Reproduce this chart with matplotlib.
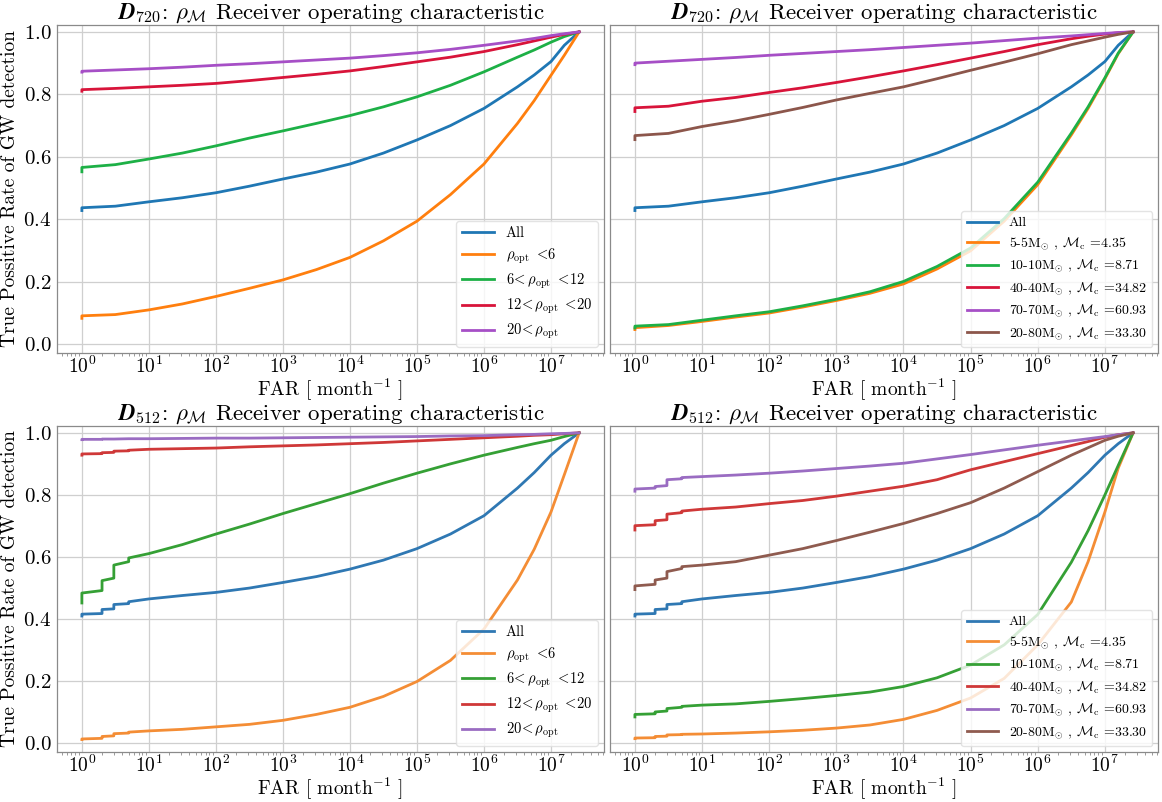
import matplotlib
matplotlib.use("Agg")
import matplotlib.pyplot as plt
from matplotlib.ticker import LogLocator, NullFormatter

plt.rcParams['font.family'] = 'serif'
plt.rcParams['font.serif'] = ['cmr10', 'DejaVu Serif']
plt.rcParams['mathtext.fontset'] = 'cm'
plt.rcParams['axes.unicode_minus'] = False
plt.rcParams['axes.formatter.use_mathtext'] = True

# ---------------- data ----------------
FAR_TOP = [1, 1, 3.16, 10, 31.6, 100, 316, 1e3, 3.16e3, 1e4, 3.16e4, 1e5, 3.16e5,
           1e6, 3.16e6, 5.62e6, 1e7, 1.58e7, 2.63e7]
FAR_BOT = [1, 1, 2, 2, 3, 3, 5, 5, 10, 31.6, 100, 316, 1e3, 3.16e3, 1e4, 3.16e4,
           1e5, 3.16e5, 1e6, 3.16e6, 5.62e6, 1e7, 1.58e7, 2.63e7]
XTICKS = [1, 10, 100, 1e3, 1e4, 1e5, 1e6, 1e7]
YTICKS = [0.0, 0.2, 0.4, 0.6, 0.8, 1.0]

# D720, SNR bins
TL_all = [0.428, 0.437, 0.442, 0.456, 0.469, 0.485, 0.506, 0.529, 0.551, 0.577, 0.612, 0.654, 0.700, 0.755, 0.824, 0.862, 0.905, 0.957, 1.0]
TL_low = [0.083, 0.091, 0.095, 0.110, 0.129, 0.153, 0.179, 0.206, 0.239, 0.278, 0.331, 0.394, 0.479, 0.577, 0.707, 0.780, 0.861, 0.925, 1.0]
TL_mid = [0.552, 0.566, 0.575, 0.593, 0.612, 0.635, 0.660, 0.683, 0.707, 0.732, 0.760, 0.792, 0.829, 0.872, 0.919, 0.942, 0.967, 0.985, 1.0]
TL_high = [0.810, 0.815, 0.819, 0.824, 0.829, 0.835, 0.844, 0.854, 0.864, 0.875, 0.889, 0.904, 0.919, 0.937, 0.959, 0.971, 0.983, 0.992, 1.0]
TL_vhigh = [0.871, 0.874, 0.878, 0.882, 0.887, 0.893, 0.898, 0.904, 0.910, 0.916, 0.924, 0.933, 0.944, 0.957, 0.971, 0.979, 0.988, 0.994, 1.0]

# D720, mass bins
TR_all = [0.428, 0.437, 0.442, 0.456, 0.469, 0.485, 0.506, 0.529, 0.551, 0.577, 0.612, 0.654, 0.700, 0.755, 0.824, 0.862, 0.905, 0.957, 1.0]
TR_55 = [0.047, 0.053, 0.060, 0.073, 0.087, 0.100, 0.119, 0.140, 0.163, 0.193, 0.241, 0.299, 0.394, 0.511, 0.670, 0.755, 0.850, 0.930, 1.0]
TR_1010 = [0.052, 0.058, 0.063, 0.077, 0.091, 0.104, 0.123, 0.144, 0.168, 0.201, 0.249, 0.308, 0.402, 0.519, 0.676, 0.760, 0.853, 0.932, 1.0]
TR_4040 = [0.745, 0.757, 0.762, 0.778, 0.790, 0.806, 0.821, 0.838, 0.856, 0.875, 0.895, 0.916, 0.937, 0.959, 0.978, 0.986, 0.993, 0.997, 1.0]
TR_7070 = [0.895, 0.900, 0.906, 0.912, 0.918, 0.925, 0.931, 0.937, 0.943, 0.950, 0.957, 0.964, 0.972, 0.980, 0.987, 0.991, 0.995, 0.998, 1.0]
TR_2080 = [0.655, 0.668, 0.675, 0.697, 0.715, 0.736, 0.758, 0.782, 0.803, 0.824, 0.850, 0.877, 0.903, 0.930, 0.959, 0.971, 0.983, 0.992, 1.0]

# D512, SNR bins
BL_all = [0.410, 0.416, 0.418, 0.431, 0.433, 0.447, 0.450, 0.456, 0.465, 0.476, 0.486, 0.500, 0.518, 0.537, 0.561, 0.590, 0.627, 0.674, 0.733, 0.822, 0.872, 0.928, 0.965, 1.0]
BL_low = [0.012, 0.014, 0.016, 0.022, 0.024, 0.031, 0.033, 0.036, 0.040, 0.045, 0.053, 0.061, 0.074, 0.093, 0.116, 0.151, 0.199, 0.267, 0.368, 0.526, 0.625, 0.745, 0.865, 1.0]
BL_mid = [0.452, 0.484, 0.492, 0.524, 0.532, 0.574, 0.585, 0.597, 0.611, 0.640, 0.674, 0.706, 0.740, 0.772, 0.804, 0.838, 0.870, 0.900, 0.928, 0.953, 0.965, 0.976, 0.988, 1.0]
BL_high = [0.928, 0.932, 0.933, 0.936, 0.937, 0.941, 0.942, 0.944, 0.947, 0.949, 0.951, 0.955, 0.958, 0.961, 0.965, 0.969, 0.974, 0.979, 0.984, 0.989, 0.992, 0.994, 0.997, 1.0]
BL_vhigh = [0.978, 0.979, 0.979, 0.980, 0.980, 0.980, 0.981, 0.981, 0.981, 0.982, 0.983, 0.983, 0.984, 0.985, 0.986, 0.987, 0.988, 0.990, 0.991, 0.994, 0.995, 0.997, 0.998, 1.0]

# D512, mass bins
BR_all = [0.410, 0.416, 0.418, 0.431, 0.433, 0.447, 0.450, 0.456, 0.465, 0.476, 0.486, 0.500, 0.518, 0.537, 0.561, 0.590, 0.627, 0.674, 0.733, 0.822, 0.872, 0.928, 0.965, 1.0]
BR_55 = [0.015, 0.017, 0.018, 0.022, 0.023, 0.027, 0.028, 0.029, 0.030, 0.033, 0.037, 0.042, 0.049, 0.059, 0.077, 0.106, 0.146, 0.209, 0.317, 0.455, 0.585, 0.745, 0.886, 1.0]
BR_1010 = [0.085, 0.093, 0.095, 0.101, 0.104, 0.112, 0.116, 0.119, 0.123, 0.127, 0.135, 0.144, 0.154, 0.165, 0.183, 0.211, 0.252, 0.317, 0.415, 0.583, 0.685, 0.800, 0.895, 1.0]
BR_4040 = [0.687, 0.701, 0.704, 0.717, 0.720, 0.738, 0.743, 0.748, 0.754, 0.761, 0.772, 0.782, 0.796, 0.812, 0.828, 0.849, 0.881, 0.907, 0.933, 0.959, 0.972, 0.986, 0.994, 1.0]
BR_7070 = [0.812, 0.819, 0.822, 0.827, 0.830, 0.849, 0.852, 0.856, 0.859, 0.864, 0.870, 0.877, 0.885, 0.893, 0.902, 0.916, 0.930, 0.945, 0.960, 0.974, 0.981, 0.988, 0.994, 1.0]
BR_2080 = [0.495, 0.507, 0.512, 0.526, 0.532, 0.553, 0.563, 0.569, 0.574, 0.585, 0.606, 0.627, 0.653, 0.680, 0.708, 0.740, 0.775, 0.822, 0.875, 0.928, 0.952, 0.976, 0.989, 1.0]

SNR_LABELS = ["All",
              r"$\rho_{\rm opt}\ <\!6$",
              r"$6\!<\rho_{\rm opt}\ <\!12$",
              r"$12\!<\rho_{\rm opt}\ <\!20$",
              r"$20\!<\rho_{\rm opt}$"]
MASS_LABELS = ["All",
               r"5-5M$_{\odot}$ , $\mathcal{M}_{\rm c}$ =4.35",
               r"10-10M$_{\odot}$ , $\mathcal{M}_{\rm c}$ =8.71",
               r"40-40M$_{\odot}$ , $\mathcal{M}_{\rm c}$ =34.82",
               r"70-70M$_{\odot}$ , $\mathcal{M}_{\rm c}$ =60.93",
               r"20-80M$_{\odot}$ , $\mathcal{M}_{\rm c}$ =33.30"]
TITLES = [r"$\boldsymbol{D}_{720}$: $\rho_{\mathcal{M}}$ Receiver operating characteristic",
          r"$\boldsymbol{D}_{512}$: $\rho_{\mathcal{M}}$ Receiver operating characteristic"]

TOP_COLORS = ['#1f77b4', '#ff7f0e', '#1db046', '#d8143a', '#a64fc6', '#8c564b']
BOT_COLORS = ['#2f78b3', '#f48d35', '#35a035', '#cf3838', '#9a6cc2', '#8f5b4f']

# ---------------- figure ----------------
fig = plt.figure(figsize=(11.62, 8.02), dpi=100)
W, H = 1162, 802
pos = {
    (0, 0): (57, 25, 604, 353),
    (0, 1): (610, 25, 1158, 353),
    (1, 0): (57, 426, 604, 752),
    (1, 1): (610, 426, 1158, 752),
}
axes = {}
for k, (x0, y0, x1, y1) in pos.items():
    axes[k] = fig.add_axes([x0 / W, 1 - y1 / H, (x1 - x0) / W, (y1 - y0) / H])

panels = [
    ((0, 0), FAR_TOP, [TL_all, TL_low, TL_mid, TL_high, TL_vhigh], SNR_LABELS, TOP_COLORS, TITLES[0], 10.5),
    ((0, 1), FAR_TOP, [TR_all, TR_55, TR_1010, TR_4040, TR_7070, TR_2080], MASS_LABELS, TOP_COLORS, TITLES[0], 10),
    ((1, 0), FAR_BOT, [BL_all, BL_low, BL_mid, BL_high, BL_vhigh], SNR_LABELS, BOT_COLORS, TITLES[1], 10.5),
    ((1, 1), FAR_BOT, [BR_all, BR_55, BR_1010, BR_4040, BR_7070, BR_2080], MASS_LABELS, BOT_COLORS, TITLES[1], 10),
]

for key, far, series, labels, colors, title, lfs in panels:
    ax = axes[key]
    for y, lab, c in zip(series, labels, colors):
        ax.plot(far, y, color=c, lw=2.0, label=lab)
    ax.set_xscale('log')
    ax.set_xticks(XTICKS)
    ax.xaxis.set_minor_locator(LogLocator(base=10, subs=range(2, 10), numticks=20))
    ax.xaxis.set_minor_formatter(NullFormatter())
    ax.set_ylim(-0.028, 1.022)
    ax.set_yticks(YTICKS)
    ax.grid(True, which='major', color='#cfcfcf', lw=0.9)
    ax.set_axisbelow(True)
    for s in ax.spines.values():
        s.set_color('#8a8a8a')
        s.set_linewidth(0.9)
    ax.tick_params(axis='y', which='major', labelsize=15, length=0, pad=4)
    ax.tick_params(axis='x', which='major', labelsize=14, length=0, pad=2)
    ax.tick_params(axis='x', which='minor', length=2, color='#8a8a8a')
    ax.tick_params(axis='y', which='minor', length=0)
    ax.set_xlabel(r"FAR [ month$^{-1}$ ]", fontsize=14, labelpad=0)
    ax.set_title(title, fontsize=16.5, pad=1)
    if key[1] == 0:
        ax.set_ylabel("True Possitive Rate of GW detection", fontsize=14, labelpad=3)
    else:
        ax.tick_params(axis='y', labelleft=False)
    ax.legend(loc='lower right', fontsize=lfs, framealpha=0.8, edgecolor='#dddddd',
              handlelength=2.2, borderaxespad=0.4, labelspacing=0.4)

fig.savefig("out.png", dpi=100)
